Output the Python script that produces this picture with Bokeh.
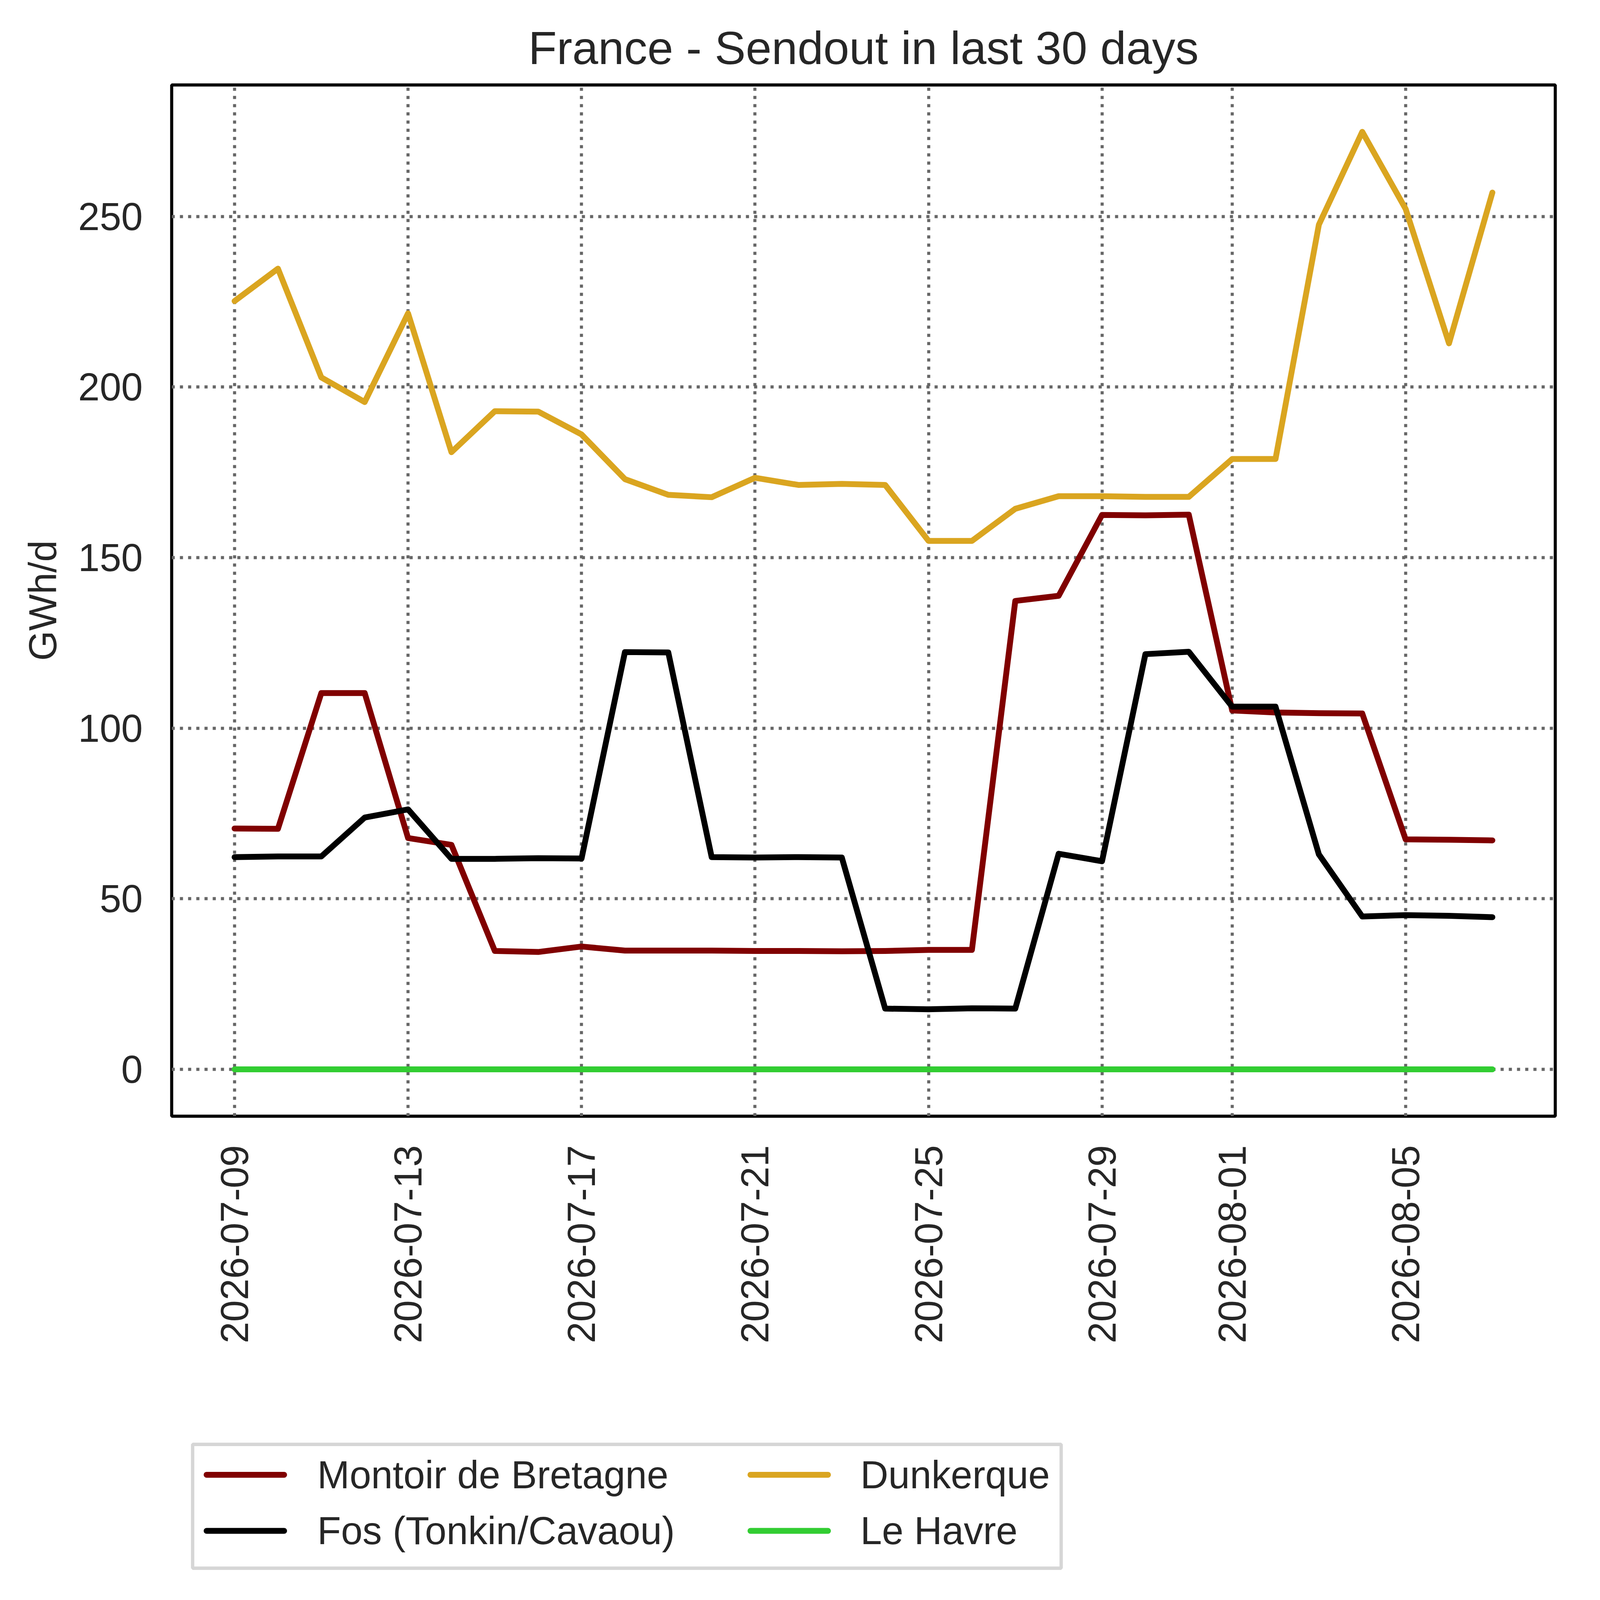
import math
from datetime import timedelta

import pandas as pd
from bokeh.plotting import figure
from bokeh.layouts import column
from bokeh.core.properties import value
from bokeh.models import (Range1d, FixedTicker, DatetimeTickFormatter,
                          ColumnDataSource)
from bokeh.embed import file_html
from bokeh.resources import INLINE

# ---------------- data ----------------
dates = [
    "2026-07-09", "2026-07-10", "2026-07-11", "2026-07-12", "2026-07-13",
    "2026-07-14", "2026-07-15", "2026-07-16", "2026-07-17", "2026-07-18",
    "2026-07-19", "2026-07-20", "2026-07-21", "2026-07-22", "2026-07-23",
    "2026-07-24", "2026-07-25", "2026-07-26", "2026-07-27", "2026-07-28",
    "2026-07-29", "2026-07-30", "2026-07-31", "2026-08-01", "2026-08-02",
    "2026-08-03", "2026-08-04", "2026-08-05", "2026-08-06", "2026-08-07",
]

montoir = [70.6, 70.5, 110.3, 110.3, 67.8, 65.8, 34.7, 34.4, 36.0, 34.8,
           34.8, 34.8, 34.7, 34.7, 34.6, 34.7, 35.0, 35.0, 137.3, 138.8,
           162.5, 162.4, 162.6, 105.2, 104.6, 104.4, 104.3, 67.4, 67.3, 67.1]

fos = [62.2, 62.4, 62.4, 73.8, 76.2, 61.7, 61.7, 61.9, 61.8, 122.3,
       122.2, 62.2, 62.1, 62.2, 62.1, 17.8, 17.6, 17.9, 17.8, 63.2,
       61.0, 121.7, 122.4, 106.3, 106.3, 63.0, 44.8, 45.2, 45.0, 44.6]

dunkerque = [225.2, 234.7, 202.8, 195.6, 221.6, 180.9, 192.9, 192.8, 186.1, 173.0,
             168.4, 167.7, 173.4, 171.3, 171.6, 171.3, 154.9, 154.9, 164.3, 168.0,
             168.0, 167.8, 167.8, 178.9, 178.9, 247.6, 274.8, 252.2, 212.8, 257.0]

le_havre = [0, 0, 0, 0, 0, 0, 0, 0, 0, 0,
            0, 0, 0, 0, 0, 0, 0, 0, 0, 0,
            0, 0, 0, 0, 0, 0, 0, 0, 0, 0]

tick_dates = ["2026-07-09", "2026-07-13", "2026-07-17", "2026-07-21",
              "2026-07-25", "2026-07-29", "2026-08-01", "2026-08-05"]
y_ticks = [0, 50, 100, 150, 200, 250]

series_names = ["Montoir de Bretagne", "Fos (Tonkin/Cavaou)", "Dunkerque", "Le Havre"]
series_colors = ["#800000", "#000000", "#daa520", "#32cd32"]

# ---------------- styling ----------------
S = 0.714                      # overall scale so the page fits the browser viewport


def px(v):
    return int(round(v * S))


def fs(v):
    return f"{v * S:.1f}px"


FONT = "Liberation Sans"
TXT = "#262626"
LW = 21 * S

x = pd.to_datetime(dates)
src = ColumnDataSource(dict(x=x, montoir=montoir, fos=fos,
                            dunkerque=dunkerque, le_havre=le_havre))

x0 = x[0].to_pydatetime()
x1 = x[-1].to_pydatetime()
pad = timedelta(days=0.05 * (x1 - x0).days)

W = px(5675)
H_TOTAL = px(5721)
H_MAIN = px(5100)
H_LEG = H_TOTAL - H_MAIN
FRAME_L = px(615)
FRAME_R = px(5576)

p = figure(width=W, height=H_MAIN, output_backend="svg", toolbar_location=None,
           x_axis_type="datetime",
           x_range=Range1d(x0 - pad, x1 + pad),
           y_range=Range1d(-13.74, 288.54),
           min_border_left=FRAME_L, min_border_right=W - FRAME_R,
           min_border_top=px(304), min_border_bottom=H_MAIN - px(4002))

p.background_fill_color = "white"
p.border_fill_color = "white"
p.outline_line_color = "black"
p.outline_line_width = 11 * S

p.title.text = "France - Sendout in last 30 days"
p.title.align = "center"
p.title.text_font = FONT
p.title.text_font_size = fs(167)
p.title.text_font_style = "normal"
p.title.text_color = TXT
p.title.standoff = px(80)

cols = ["montoir", "fos", "dunkerque", "le_havre"]
for c, col in zip(cols, series_colors):
    p.line("x", c, source=src, line_color=col, line_width=LW,
           line_cap="round", line_join="round")

# axes
xt = FixedTicker(ticks=[pd.Timestamp(d).value // 10**6 for d in tick_dates])
p.xaxis.ticker = xt
p.xgrid.ticker = xt
fmt = "%Y-%m-%d"
p.xaxis.formatter = DatetimeTickFormatter(
    milliseconds=fmt, seconds=fmt, minsec=fmt, minutes=fmt, hourmin=fmt,
    hours=fmt, days=fmt, months=fmt, years=fmt)
p.xaxis.major_label_orientation = math.pi / 2

yt = FixedTicker(ticks=y_ticks)
p.yaxis.ticker = yt
p.ygrid.ticker = yt

for ax in (p.xaxis, p.yaxis):
    ax.axis_line_color = None
    ax.major_tick_line_color = None
    ax.minor_tick_line_color = None
    ax.major_tick_out = 0
    ax.major_tick_in = 0
    ax.minor_tick_out = 0
    ax.minor_tick_in = 0
    ax.major_label_text_font = FONT
    ax.major_label_text_font_size = fs(139)
    ax.major_label_text_color = TXT

p.xaxis.major_label_standoff = px(103)
p.yaxis.major_label_standoff = px(103)

p.yaxis.axis_label = "GWh/d"
p.yaxis.axis_label_text_font = FONT
p.yaxis.axis_label_text_font_size = fs(139)
p.yaxis.axis_label_text_font_style = "normal"
p.yaxis.axis_label_text_color = TXT
p.yaxis.axis_label_standoff = px(45)

p.grid.grid_line_color = "#666666"
p.grid.grid_line_width = 11 * S
p.grid.grid_line_dash = f"{px(11)} {px(18)}"

# ---------------- legend strip (separate figure below the chart) ----------------
# its frame spans the same horizontal extent as the chart frame; the x range is
# chosen so that x values are page pixels
lf = figure(width=W, height=H_LEG, output_backend="svg", toolbar_location=None,
            x_range=Range1d(FRAME_L, FRAME_R), y_range=Range1d(0, H_LEG),
            x_axis_location=None, y_axis_location=None,
            min_border_left=FRAME_L, min_border_right=W - FRAME_R,
            min_border_top=0, min_border_bottom=0)
lf.title = None
lf.grid.visible = False
lf.outline_line_color = None
lf.background_fill_color = "white"
lf.border_fill_color = "white"


def lx(r):          # reference-page x  ->  page pixel x
    return r * S


def ly(r):          # reference-page y  ->  legend-strip pixel y (upwards)
    return H_TOTAL - r * S


# legend frame (layout constants in reference pixels)
BOX_L, BOX_R, BOX_T, BOX_B, BOX_LW = 684, 3810, 5172, 5628, 12
lf.quad(left=[lx(BOX_L + BOX_LW / 2)], right=[lx(BOX_R - BOX_LW / 2)],
        top=[ly(BOX_T + BOX_LW / 2)], bottom=[ly(BOX_B - BOX_LW / 2)],
        fill_color="white", line_color="#d6d6d6", line_width=BOX_LW * S)

COL_GLYPH_X = [740, 2690]
COL_TEXT_X = [1137, 3084]
ROW_MID_Y = [5287, 5488]
HANDLE = 278

gx0, gx1, gy, tx = [], [], [], []
for i in range(len(series_names)):
    c, r = divmod(i, 2)
    gx0.append(lx(COL_GLYPH_X[c]))
    gx1.append(lx(COL_GLYPH_X[c] + HANDLE))
    gy.append(ly(ROW_MID_Y[r]))
    tx.append(lx(COL_TEXT_X[c]))

leg_src = ColumnDataSource(dict(x0=gx0, x1=gx1, y=gy, tx=tx,
                                color=series_colors, label=series_names))
lf.segment(x0="x0", y0="y", x1="x1", y1="y", source=leg_src,
           line_color="color", line_width=LW, line_cap="round")
lf.text(x="tx", y="y", text="label", source=leg_src,
        text_font=value(FONT), text_font_size=value(fs(139)),
        text_color=TXT, text_align="left", text_baseline="middle")

layout = column(p, lf, spacing=0)
open("out.html", "w").write(file_html(layout, INLINE))
